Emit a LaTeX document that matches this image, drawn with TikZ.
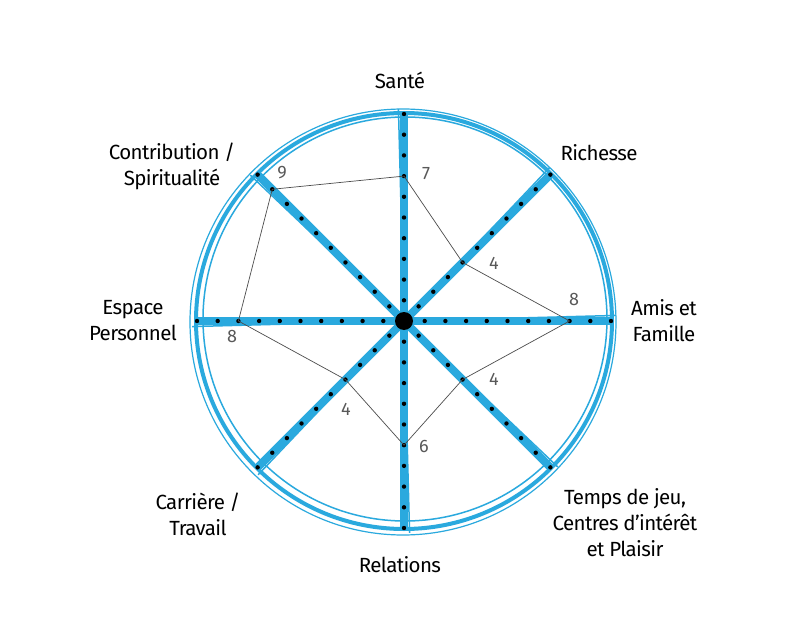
\documentclass[tikz,border=0pt]{standalone}
\usepackage{fontspec}
\setmainfont{Fira Sans}
\definecolor{wblue}{HTML}{2AA9DE}
\begin{document}
\begin{tikzpicture}[x=1pt,y=1pt,
  lbl/.style={font=\fontsize{20.5}{26}\selectfont\addfontfeature{LetterSpace=-3}, align=center},
  num/.style={font=\fontsize{18}{20}\selectfont, text=black!65},
  spoke/.style={wblue, line width=8pt},
  edge/.style={black!70, line width=0.7pt}]
\useasboundingbox[fill=white] (-404,321) rectangle (393,-316);
% ring
\draw[wblue, line width=4pt] (0,0) circle (208);
\draw[wblue, line width=1.5pt] (1,2) circle (202);
\draw[wblue, line width=1.2pt] (-1,-1) circle (213);
% spokes
\foreach \a in {0,45,...,315}{
  \draw[spoke] (0,0) -- (\a:207);
  \draw[wblue, line width=1.5pt] (\a+1.5:20) -- (\a+1.5:212);
  \foreach \k in {1,...,10} \fill[black] (\a:\k*20.7) circle (2.2);
}
\fill (0,0) circle (9);
% polygon
\coordinate (s) at (90:7*20.7);
\coordinate (r) at (45:4*20.7);
\coordinate (a) at (0:8*20.7);
\coordinate (t) at (-45:4*20.7);
\coordinate (re) at (-90:6*20.7);
\coordinate (c) at (-135:4*20.7);
\coordinate (e) at (180:8*20.7);
\coordinate (sp) at (135:9*20.7);
\draw[edge] (s)--(r)--(a)--(t)--(re)--(c)--(e)--(sp)--cycle;
\node[num] (n1) at (22,147) {7};
\node[num] (n2) at (90,58) {4};
\node[num] (n3) at (170,22) {8};
\node[num] (n4) at (90,-58) {4};
\node[num] (n5) at (20,-125) {6};
\node[num] (n6) at (-58,-88) {4};
\node[num] (n7) at (-172,-15) {8};
\node[num] (n8) at (-122,148) {9};
% labels
\node[lbl] (l1) at (-4,241) {Santé};
\node[lbl] (l2) at (195,168) {Richesse};
\node[lbl] (l3) at (260,0) {Amis et\\Famille};
\node[lbl] (l4) at (221,-202) {Temps de jeu,\\Centres d’intérêt\\et Plaisir};
\node[lbl] (l5) at (-4,-244) {Relations};
\node[lbl] (l6) at (-206,-193) {Carrière /\\Travail};
\node[lbl] (l7) at (-271,0) {Espace\\Personnel};
\node[lbl] (l8) at (-232,155) {Contribution /\\Spiritualité};
\end{tikzpicture}
\end{document}
